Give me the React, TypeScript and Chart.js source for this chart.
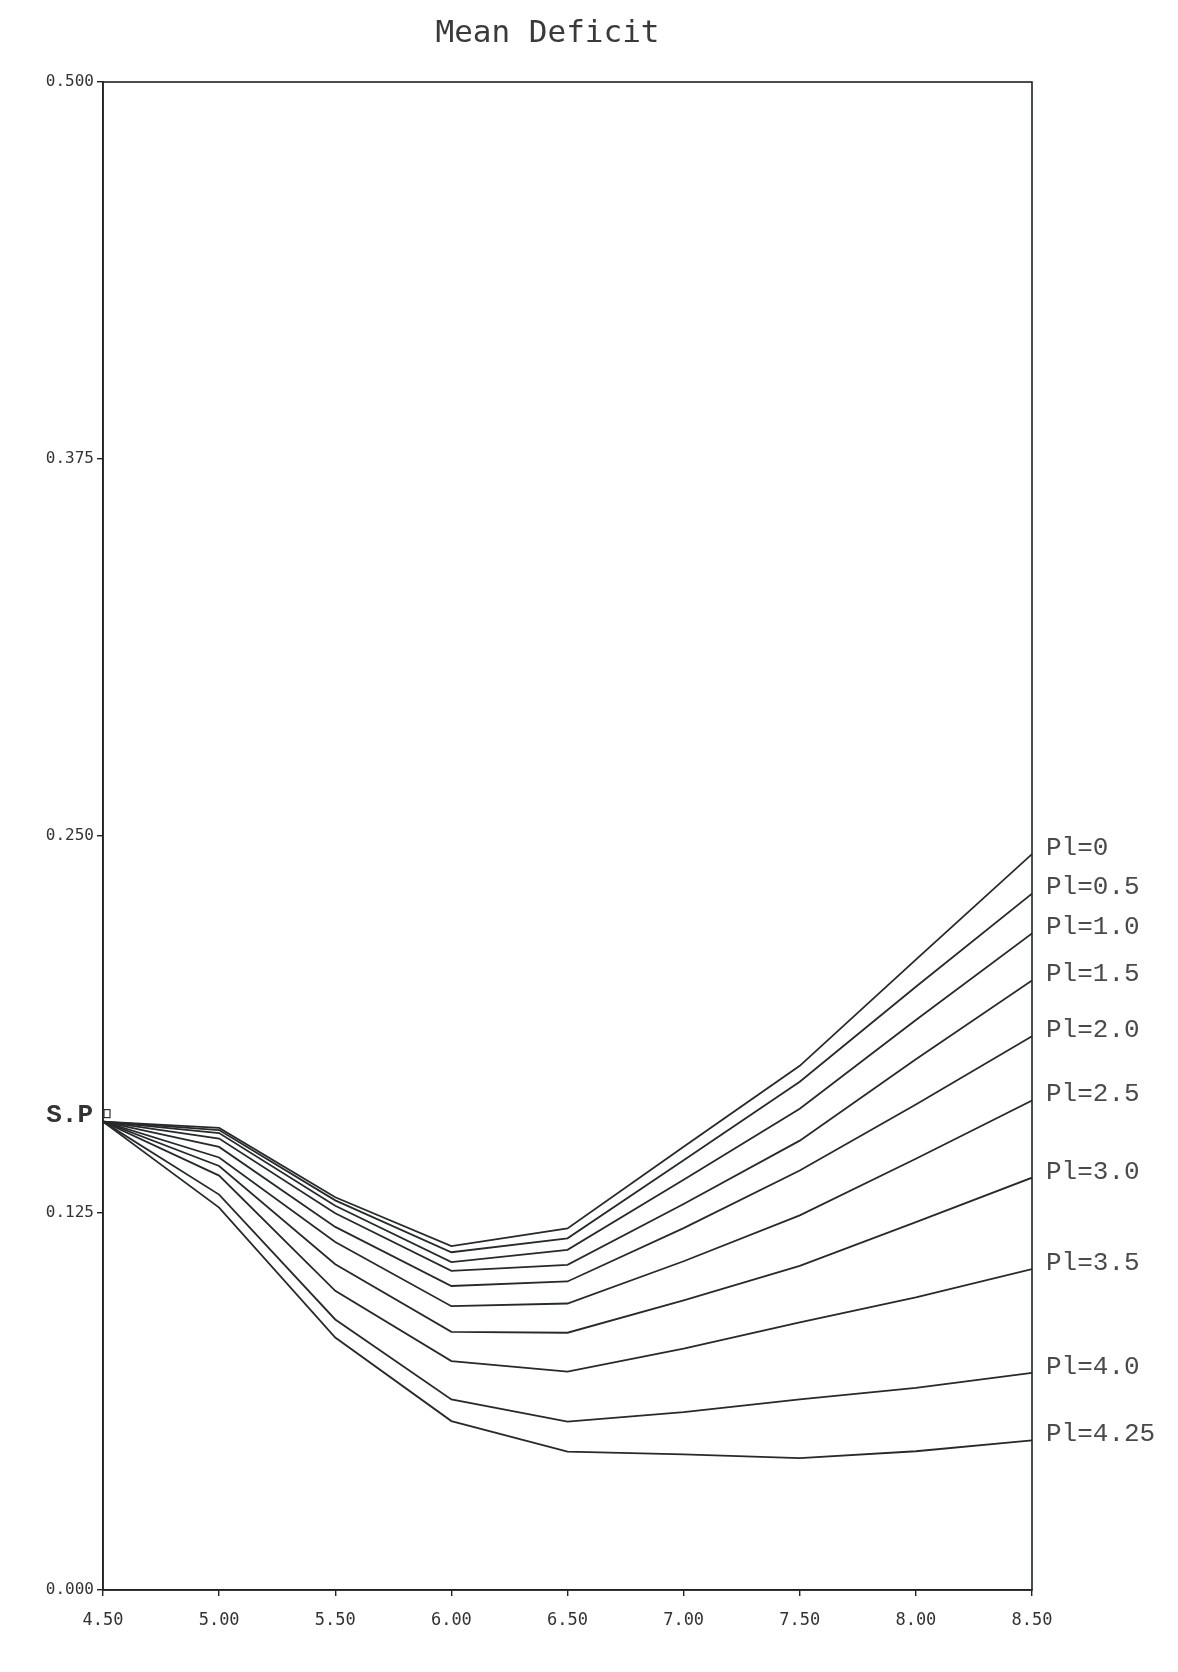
import React, { useEffect, useRef } from 'react';
import { Chart, registerables } from 'chart.js';

Chart.register(...registerables);

const titleText = 'Mean Deficit';
const startLabel = 'S.P';

const xValues = [4.5, 5.0, 5.5, 6.0, 6.5, 7.0, 7.5, 8.0, 8.5];
const xTicks = [4.5, 5.0, 5.5, 6.0, 6.5, 7.0, 7.5, 8.0, 8.5];
const yTicks = [0, 0.125, 0.25, 0.375, 0.5];

const seriesLabels = ['Pl=0', 'Pl=0.5', 'Pl=1.0', 'Pl=1.5', 'Pl=2.0', 'Pl=2.5', 'Pl=3.0', 'Pl=3.5', 'Pl=4.0', 'Pl=4.25'];

const pl0 = [0.1553, 0.1532, 0.1302, 0.114, 0.1199, 0.147, 0.1738, 0.209, 0.244];
const pl05 = [0.1553, 0.1525, 0.1292, 0.112, 0.1166, 0.1425, 0.1685, 0.2, 0.2309];
const pl10 = [0.1553, 0.1515, 0.1274, 0.1087, 0.1128, 0.136, 0.1596, 0.189, 0.2177];
const pl15 = [0.1553, 0.1497, 0.1249, 0.1058, 0.1078, 0.128, 0.149, 0.176, 0.2021];
const pl20 = [0.1553, 0.1469, 0.1204, 0.1008, 0.1023, 0.12, 0.1391, 0.161, 0.1836];
const pl25 = [0.1553, 0.1434, 0.1154, 0.0941, 0.095, 0.109, 0.1242, 0.143, 0.1623];
const pl30 = [0.1553, 0.1406, 0.108, 0.0856, 0.0853, 0.096, 0.1075, 0.122, 0.1367];
const pl35 = [0.1553, 0.1374, 0.0992, 0.0759, 0.0724, 0.08, 0.0887, 0.097, 0.1064];
const pl40 = [0.1553, 0.1311, 0.0897, 0.0632, 0.0558, 0.059, 0.0632, 0.067, 0.072];
const pl425 = [0.1553, 0.1268, 0.0837, 0.056, 0.0459, 0.045, 0.0437, 0.046, 0.0496];

const seriesValues = [pl0, pl05, pl10, pl15, pl20, pl25, pl30, pl35, pl40, pl425];

const overlay = {
  id: 'overlay',
  afterDraw(chart: any) {
    const { ctx, chartArea: a, scales } = chart;
    const y = scales.y;
    const x = scales.x;
    ctx.save();
    // frame
    ctx.strokeStyle = '#1f2222';
    ctx.lineWidth = 1.6;
    ctx.strokeRect(a.left, a.top, a.right - a.left, a.bottom - a.top);
    // title
    ctx.fillStyle = '#3a3a3a';
    ctx.font = '31px "DejaVu Sans Mono"';
    ctx.textAlign = 'center';
    ctx.textBaseline = 'alphabetic';
    ctx.fillText(titleText, (a.left + a.right) / 2 - 20, a.top - 40);
    // series labels at line ends
    ctx.font = '26px "Liberation Mono"';
    ctx.fillStyle = '#4a4a4a';
    ctx.textAlign = 'left';
    ctx.textBaseline = 'middle';
    chart.data.datasets.forEach((ds: any) => {
      const last = ds.data[ds.data.length - 1];
      const py = y.getPixelForValue(last.y);
      ctx.fillText(ds.label, a.right + 14, py - 6);
    });
    // start point label and marker
    const first = chart.data.datasets[0].data[0];
    const sx = x.getPixelForValue(first.x);
    const sy = y.getPixelForValue(first.y);
    ctx.font = 'bold 26px "Liberation Mono"';
    ctx.fillStyle = '#333';
    ctx.textAlign = 'right';
    ctx.fillText(startLabel, sx - 10, sy - 6);
    ctx.strokeStyle = '#333';
    ctx.lineWidth = 1.2;
    ctx.strokeRect(sx + 1, sy - 12, 6, 8);
    ctx.restore();
  },
};

export default function App() {
  const ref = useRef<HTMLCanvasElement | null>(null);
  useEffect(() => {
    document.body.style.margin = '0';
    const canvas = ref.current;
    if (!canvas) return;
    const datasets = seriesLabels.map((label, i) => ({
      label,
      data: xValues.map((xv, j) => ({ x: xv, y: seriesValues[i][j] })),
      borderColor: '#262a2a',
      borderWidth: 1.8,
      pointRadius: 0,
      tension: 0,
      fill: false,
    }));
    const chart = new Chart(canvas, {
      type: 'line',
      data: { datasets },
      options: {
        animation: false,
        responsive: false,
        maintainAspectRatio: false,
        layout: { padding: { left: 0, right: 146, top: 82, bottom: 22 } },
        plugins: { legend: { display: false }, tooltip: { enabled: false }, title: { display: false } },
        scales: {
          x: {
            type: 'linear',
            min: 4.5,
            max: 8.5,
            afterFit: (s: any) => { s.height = 60; },
            afterBuildTicks: (s: any) => { s.ticks = xTicks.map((v) => ({ value: v })); },
            ticks: {
              color: '#333',
              font: { family: 'DejaVu Sans Mono', size: 17 },
              padding: 14,
              maxRotation: 0,
              callback: (v: any) => Number(v).toFixed(2),
            },
            grid: { drawOnChartArea: false, drawTicks: true, tickLength: 6, color: '#222', lineWidth: 1.4 },
            border: { display: true, color: '#1f2222', width: 1.6 },
          },
          y: {
            type: 'linear',
            min: 0,
            max: 0.5,
            afterFit: (s: any) => { s.width = 103; },
            afterBuildTicks: (s: any) => { s.ticks = yTicks.map((v) => ({ value: v })); },
            ticks: {
              color: '#333',
              font: { family: 'DejaVu Sans Mono', size: 16 },
              padding: 3,
              callback: (v: any) => Number(v).toFixed(3),
            },
            grid: { drawOnChartArea: false, drawTicks: true, tickLength: 6, color: '#222', lineWidth: 1.4 },
            border: { display: true, color: '#1f2222', width: 1.6 },
          },
        },
      },
      plugins: [overlay],
    });
    return () => chart.destroy();
  }, []);
  return (
    <div style={{ width: 1178, height: 1672, background: '#fff' }}>
      <canvas ref={ref} width={1178} height={1672} style={{ display: 'block' }} />
    </div>
  );
}
